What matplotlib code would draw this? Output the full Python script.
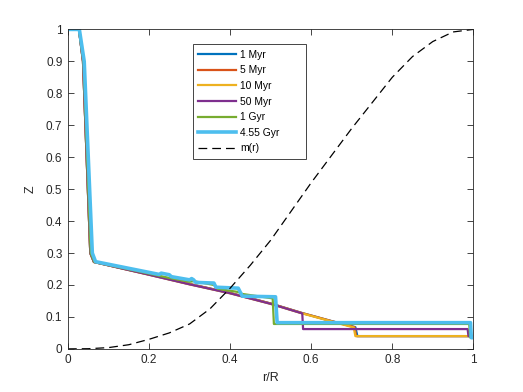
import matplotlib

matplotlib.use("Agg")

import matplotlib.pyplot as plt

# metallicity profiles Z(r/R) at several ages
r_1myr = [0, 0.027, 0.037, 0.055, 0.064, 0.2, 0.3, 0.4, 0.5, 0.578, 0.65, 0.709, 0.714, 0.988, 0.99, 1.0]
z_1myr = [1, 1, 0.9, 0.3, 0.272, 0.233, 0.203, 0.175, 0.142, 0.112, 0.087, 0.068, 0.04, 0.04, 0.04, 0.04]

r_5myr = [0, 0.027, 0.037, 0.055, 0.064, 0.2, 0.3, 0.4, 0.5, 0.578, 0.65, 0.707, 0.711, 0.988, 0.99, 1.0]
z_5myr = [1, 1, 0.9, 0.3, 0.272, 0.233, 0.203, 0.175, 0.142, 0.112, 0.087, 0.068, 0.04, 0.04, 0.04, 0.04]

r_10myr = [0, 0.027, 0.037, 0.055, 0.064, 0.2, 0.3, 0.4, 0.5, 0.578, 0.65, 0.705, 0.709, 0.988, 0.99, 1.0]
z_10myr = [1, 1, 0.9, 0.3, 0.272, 0.232, 0.202, 0.174, 0.141, 0.111, 0.086, 0.067, 0.04, 0.04, 0.04, 0.04]

r_50myr = [0, 0.027, 0.037, 0.055, 0.064, 0.2, 0.3, 0.4, 0.5, 0.578, 0.58, 0.986, 0.988, 1.0]
z_50myr = [1, 1, 0.9, 0.3, 0.272, 0.232, 0.202, 0.174, 0.141, 0.111, 0.062, 0.062, 0.04, 0.04]

r_1gyr = [0, 0.027, 0.038, 0.056, 0.065, 0.25, 0.3, 0.31, 0.36, 0.37, 0.42, 0.43, 0.505, 0.508, 0.99, 0.992, 1.0]
z_1gyr = [1, 1, 0.9, 0.3, 0.272, 0.222, 0.21, 0.212, 0.2, 0.188, 0.178, 0.172, 0.158, 0.078, 0.078, 0.036, 0.036]

r_455gyr = [0, 0.028, 0.04, 0.06, 0.068, 0.225, 0.23, 0.25, 0.255, 0.3, 0.305, 0.31, 0.315, 0.36, 0.365,
            0.42, 0.43, 0.512, 0.516, 0.993, 0.995, 1.0]
z_455gyr = [1, 1, 0.9, 0.3, 0.273, 0.233, 0.237, 0.232, 0.226, 0.216, 0.22, 0.216, 0.208, 0.206, 0.193,
            0.19, 0.165, 0.163, 0.082, 0.082, 0.035, 0.035]

# mass coordinate m(r)
r_m = [0, 0.05, 0.1, 0.15, 0.2, 0.25, 0.3, 0.35, 0.4, 0.45, 0.5, 0.55, 0.6, 0.65, 0.7, 0.75, 0.8, 0.85,
       0.9, 0.95, 1.0]
m_r = [0, 0.0005, 0.004, 0.013, 0.03, 0.05, 0.078, 0.125, 0.19, 0.262, 0.34, 0.43, 0.52, 0.605, 0.69,
       0.77, 0.85, 0.915, 0.962, 0.992, 1.0]

series = [
    (r_1myr, z_1myr, "1 Myr", "#0072BD", 1.6),
    (r_5myr, z_5myr, "5 Myr", "#D95319", 1.6),
    (r_10myr, z_10myr, "10 Myr", "#EDB120", 1.6),
    (r_50myr, z_50myr, "50 Myr", "#7E2F8E", 1.6),
    (r_1gyr, z_1gyr, "1 Gyr", "#77AC30", 1.6),
    (r_455gyr, z_455gyr, "4.55 Gyr", "#4DBEEE", 2.6),
]

plt.rcParams["font.family"] = ["Liberation Sans", "DejaVu Sans"]
fig = plt.figure(figsize=(5.23, 3.92), dpi=100)
ax = fig.add_axes([0.13, 0.11, 0.775, 0.815])

for r, z, label, color, lw in series:
    ax.plot(r, z, color=color, linewidth=lw, label=label)
ax.plot(r_m, m_r, color="black", linewidth=0.9, dashes=(7, 4), label="m(r)")

ax.set_xlim(0, 1)
ax.set_ylim(0, 1)
ax.set_xticks([0, 0.2, 0.4, 0.6, 0.8, 1])
ax.set_xticklabels(["0", "0.2", "0.4", "0.6", "0.8", "1"])
ax.set_yticks([i / 10 for i in range(11)])
ax.set_yticklabels(["0"] + [f"{i / 10:g}" for i in range(1, 10)] + ["1"])
ax.tick_params(direction="in", length=4, width=0.6, top=True, right=True, labelsize=8.5,
               colors="#262626", pad=4)
for spine in ax.spines.values():
    spine.set_color("#262626")
    spine.set_linewidth(0.6)

ax.set_xlabel("r/R", fontsize=9, color="#262626", labelpad=4)
ax.set_ylabel("Z", fontsize=9, color="#262626", labelpad=7)

# box stretched to the wider MATLAB-style legend frame
leg = ax.legend(loc="upper left", bbox_to_anchor=(0.309, 0.6, 0.277, 0.353), mode="expand",
                borderaxespad=0, fontsize=7.4, handlelength=3.7, handletextpad=0.35,
                labelspacing=0.55, borderpad=0.5, fancybox=False, framealpha=1,
                edgecolor="#262626")
leg.get_frame().set_linewidth(0.6)

fig.savefig("out.png", dpi=100)
plt.close(fig)
